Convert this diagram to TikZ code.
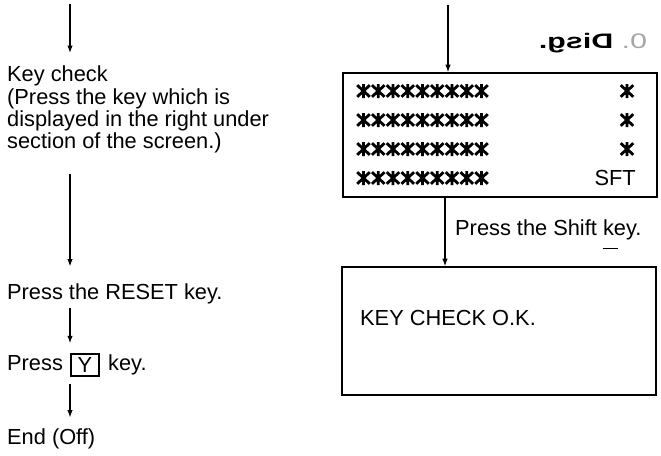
\documentclass[tikz,border=0pt]{standalone}
\usepackage{fontspec}
\setmainfont{Liberation Sans}
\usetikzlibrary{arrows.meta,calc}
\begin{document}
\begin{tikzpicture}[x=1pt,y=-1pt,
  txt/.style={inner sep=0pt,font=\fontsize{21.8}{22.3}\selectfont,align=left},
  arr/.style={line width=1.2pt,-{Latex[length=7.5pt,width=5.5pt]}},
  screen/.style={draw,line width=1.6pt,inner sep=0pt},
  keybox/.style={draw,line width=1.2pt,inner sep=0pt,minimum width=28pt,minimum height=22pt,font=\fontsize{21.8}{22}\selectfont},
  astk/.pic={\draw[line width=2.8pt] (0,-7) -- (0,7) (-6.3,-5.8) -- (6.3,5.8) (-6.3,5.8) -- (6.3,-5.8);}
]
\useasboundingbox (0,0) rectangle (661,455);

% ---------- left column ----------
\coordinate (t1) at (70,4);
\node[txt,anchor=north west] (kc) at (7,66) {Key check\\(Press the key which is\\displayed in the right under\\section of the screen.)};
\node[txt,anchor=base west] (rs) at (7,299.5) {Press the RESET key.};
\node[txt,anchor=base west] (py) at (7,370.5) {Press};
\node[keybox] (yk) at (85,365) {Y};
\node[txt,anchor=base west] (pk) at (108,370.5) {key.};
\node[txt,anchor=base west] (end) at (7,444.5) {End (Off)};

\draw[arr] (t1) -- ([yshift=13pt]t1 |- kc.north);
\draw[arr] ([yshift=-20pt]t1 |- kc.south) -- ([yshift=17pt]t1 |- rs.north);
\draw[arr] ([yshift=-4pt]t1 |- rs.south) -- ([yshift=12pt]t1 |- py.north);
\draw[arr] ([yshift=-7pt]t1 |- yk.south) -- ([yshift=11pt]t1 |- end.north);

% ---------- right column ----------
\node[xscale=-1.45,inner sep=0pt,font=\fontsize{21}{22}\selectfont] (ttl) at (593,43) {{\color{black!35}0.}\ \textbf{Disg.}};

\coordinate (t2) at (448,5);
\node[screen,minimum width=314pt,minimum height=124pt] (b1) at (500,135) {};
\draw[arr] (t2) -- (t2 |- b1.north);

\foreach \r in {91,120,149,178}{
  \foreach \i in {0,...,8}{
    \pic at ({363.5+14.75*\i},\r) {astk};
  }
}
\foreach \r in {91,120,149}{
  \pic at (627,\r) {astk};
}
\node[txt,anchor=east] (sft) at (636,178) {SFT};

\node[screen,minimum width=314pt,minimum height=128pt] (b2) at (499,331) {};
\draw[arr] ([xshift=-3pt]t2 |- b1.south) -- ([xshift=-3pt]t2 |- b2.north);
\node[txt,anchor=west] (sk) at (455,230) {Press the Shift key.};
\draw[line width=0.8pt] ([xshift=-39pt,yshift=-8pt]sk.south east) -- ([xshift=-24pt,yshift=-8pt]sk.south east);
\node[txt,anchor=west] (ok) at (360,318) {KEY CHECK O.K.};
\end{tikzpicture}
\end{document}
